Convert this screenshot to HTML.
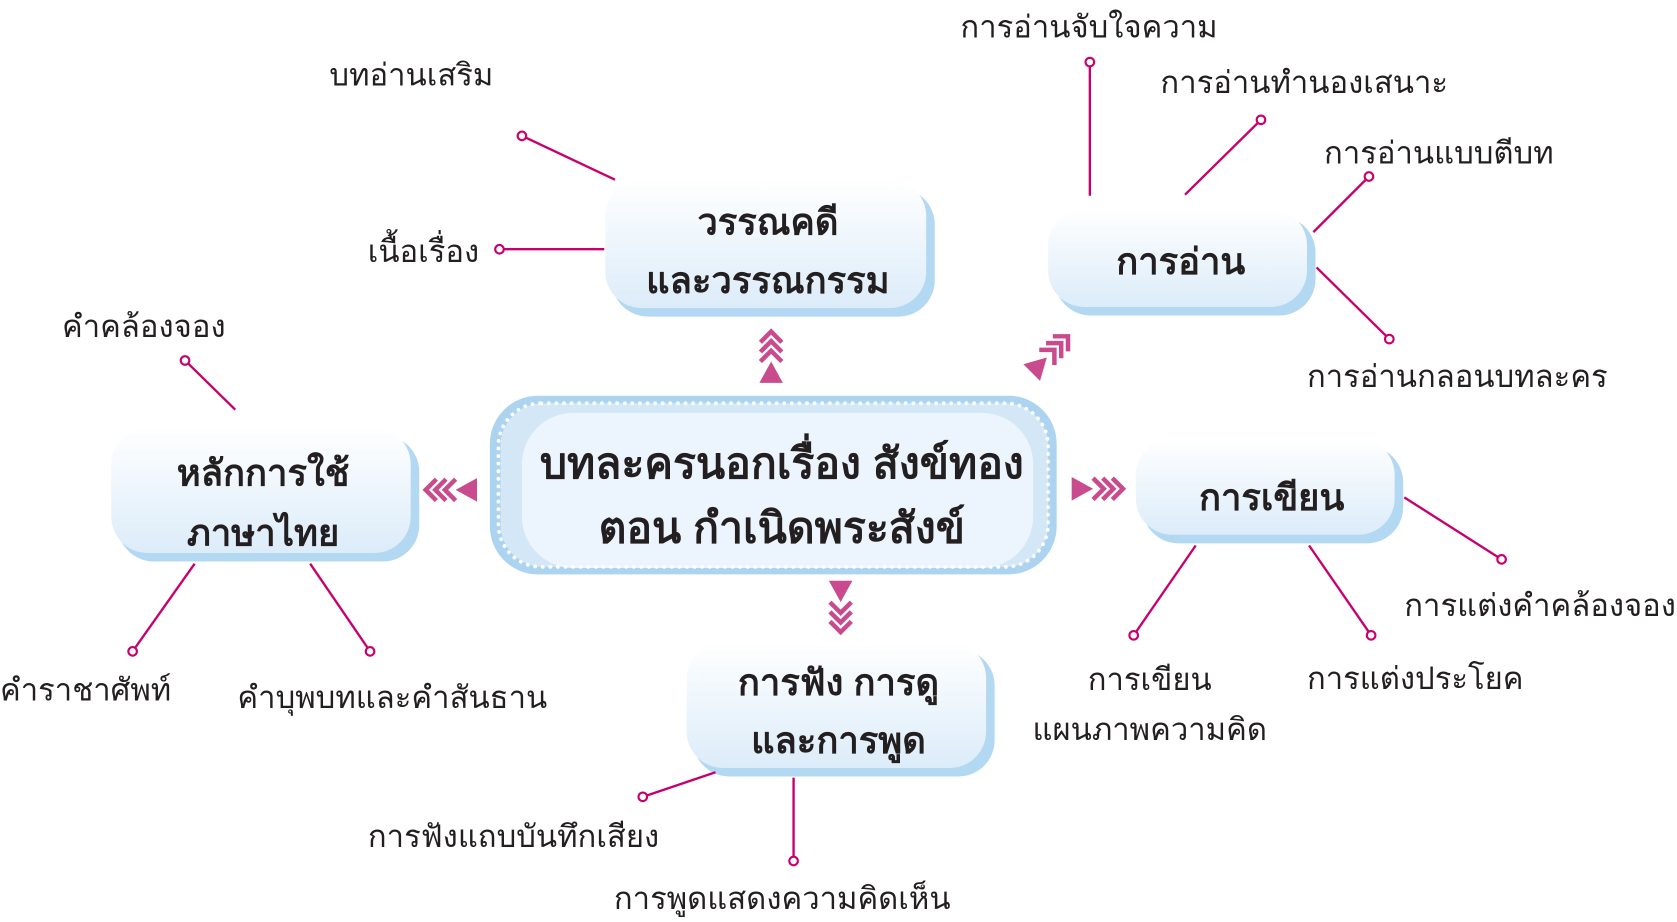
<!DOCTYPE html>
<html><head><meta charset="utf-8"><style>
html,body{margin:0;padding:0;background:#fff;width:1677px;height:922px;overflow:hidden}
svg{display:block}
text{font-family:"Liberation Sans","DejaVu Sans",sans-serif;fill:#231f20}
.l{font-size:29px}
.b{font-size:34px;font-weight:bold;text-anchor:middle}
.c{font-size:40px;font-weight:bold;text-anchor:middle}
.ln{stroke:#c8006e;stroke-width:2.2;fill:none}
.dot{stroke:#c8006e;stroke-width:2;fill:#fff}
.ar polyline{stroke:#c94b8e;stroke-width:4.2;fill:none;stroke-linejoin:miter}
.ar polygon{fill:#c94b8e}
</style></head><body>
<svg width="1677" height="922" viewBox="0 0 1568 862" xmlns="http://www.w3.org/2000/svg">
<defs>
<linearGradient id="g" x1="0" y1="0" x2="0" y2="1">
<stop offset="0" stop-color="#ffffff"/><stop offset="1" stop-color="#dcecf9"/>
</linearGradient>
<g id="arr" class="ar">
<polyline points="-12,-10 -2,0 -12,10"/>
<polyline points="-21,-10 -11,0 -21,10"/>
<polyline points="-30,-10 -20,0 -30,10"/>
<polygon points="-30,0 -50,-11 -50,11"/>
</g>
</defs>

<!-- central -->
<rect x="458" y="370" width="530" height="167" rx="45" fill="#acd4f0"/>
<rect x="468" y="377" width="512" height="153" rx="40" fill="#d3e7f7"/>
<rect x="488" y="386" width="478" height="145" rx="48" fill="#ecf5fd"/>
<rect x="466" y="377" width="514" height="153" rx="40" fill="none" stroke="#fff" stroke-width="3.5" stroke-dasharray="0.1 7" stroke-linecap="round"/>
<text class="c" x="731" y="447">บทละครนอกเรื่อง สังข์ทอง</text>
<text class="c" x="731" y="507">ตอน กำเนิดพระสังข์</text>

<!-- nodes -->
<g>
<rect x="572" y="176" width="302" height="120" rx="34" fill="#b3d8f2"/>
<rect x="566" y="168" width="300" height="120" rx="34" fill="url(#g)"/>
<text class="b" x="718" y="219">วรรณคดี</text>
<text class="b" x="718" y="274">และวรรณกรรม</text>

<rect x="986" y="202" width="244" height="93" rx="34" fill="#b3d8f2"/>
<rect x="980" y="195" width="242" height="92" rx="34" fill="url(#g)"/>
<text class="b" x="1104" y="256">การอ่าน</text>

<rect x="110" y="407" width="282" height="118" rx="34" fill="#b3d8f2"/>
<rect x="104" y="400" width="280" height="117" rx="34" fill="url(#g)"/>
<text class="b" x="246" y="454">หลักการใช้</text>
<text class="b" x="246" y="510">ภาษาไทย</text>

<rect x="1068" y="417" width="244" height="91" rx="34" fill="#b3d8f2"/>
<rect x="1062" y="410" width="242" height="90" rx="34" fill="url(#g)"/>
<text class="b" x="1189" y="477">การเขียน</text>

<rect x="648" y="607" width="282" height="119" rx="34" fill="#b3d8f2"/>
<rect x="642" y="600" width="280" height="118" rx="34" fill="url(#g)"/>
<text class="b" x="784" y="650">การฟัง การดู</text>
<text class="b" x="784" y="704">และการพูด</text>
</g>

<!-- connectors -->
<line class="ln" x1="575" y1="168" x2="488" y2="127"/><circle class="dot" cx="488" cy="127" r="4"/>
<line class="ln" x1="565" y1="233" x2="467" y2="233"/><circle class="dot" cx="467" cy="233" r="4"/>
<line class="ln" x1="220" y1="383" x2="173" y2="337"/><circle class="dot" cx="173" cy="337" r="4"/>
<line class="ln" x1="182" y1="527" x2="124" y2="609"/><circle class="dot" cx="124" cy="609" r="4"/>
<line class="ln" x1="290" y1="527" x2="346" y2="609"/><circle class="dot" cx="346" cy="609" r="4"/>
<line class="ln" x1="669" y1="722" x2="601" y2="745"/><circle class="dot" cx="601" cy="745" r="4"/>
<line class="ln" x1="742" y1="727" x2="742" y2="805"/><circle class="dot" cx="742" cy="805" r="4"/>
<line class="ln" x1="1019" y1="183" x2="1019" y2="58"/><circle class="dot" cx="1019" cy="58" r="4"/>
<line class="ln" x1="1108" y1="182" x2="1179" y2="112"/><circle class="dot" cx="1179" cy="112" r="4"/>
<line class="ln" x1="1228" y1="217" x2="1280" y2="165"/><circle class="dot" cx="1280" cy="165" r="4"/>
<line class="ln" x1="1231" y1="250" x2="1299" y2="317"/><circle class="dot" cx="1299" cy="317" r="4"/>
<line class="ln" x1="1118" y1="510" x2="1060" y2="594"/><circle class="dot" cx="1060" cy="594" r="4"/>
<line class="ln" x1="1224" y1="510" x2="1282" y2="594"/><circle class="dot" cx="1282" cy="594" r="4"/>
<line class="ln" x1="1313" y1="465" x2="1404" y2="523"/><circle class="dot" cx="1404" cy="523" r="4"/>

<!-- labels -->
<text class="l" x="308" y="80">บทอ่านเสริม</text>
<text class="l" x="448" y="245" text-anchor="end">เนื้อเรื่อง</text>
<text class="l" x="58" y="315">คำคล้องจอง</text>
<text class="l" x="0" y="655">คำราชาศัพท์</text>
<text class="l" x="222" y="662">คำบุพบทและคำสันธาน</text>
<text class="l" x="344" y="792">การฟังแถบบันทึกเสียง</text>
<text class="l" x="574" y="850">การพูดแสดงความคิดเห็น</text>
<text class="l" x="898" y="35">การอ่านจับใจความ</text>
<text class="l" x="1085" y="87">การอ่านทำนองเสนาะ</text>
<text class="l" x="1238" y="153">การอ่านแบบตีบท</text>
<text class="l" x="1222" y="362">การอ่านกลอนบทละคร</text>
<text class="l" x="1075" y="645" text-anchor="middle">การเขียน</text>
<text class="l" x="1075" y="692" text-anchor="middle">แผนภาพความคิด</text>
<text class="l" x="1222" y="644">การแต่งประโยค</text>
<text class="l" x="1313" y="576">การแต่งคำคล้องจอง</text>

<!-- arrows -->
<use href="#arr" transform="translate(721,308) rotate(-90)"/>
<use href="#arr" transform="translate(396,458) rotate(180)"/>
<use href="#arr" transform="translate(1052,457)"/>
<use href="#arr" transform="translate(786,593) rotate(90)"/>
<use href="#arr" transform="translate(1000,313) rotate(-45)"/>
</svg>
</body></html>
